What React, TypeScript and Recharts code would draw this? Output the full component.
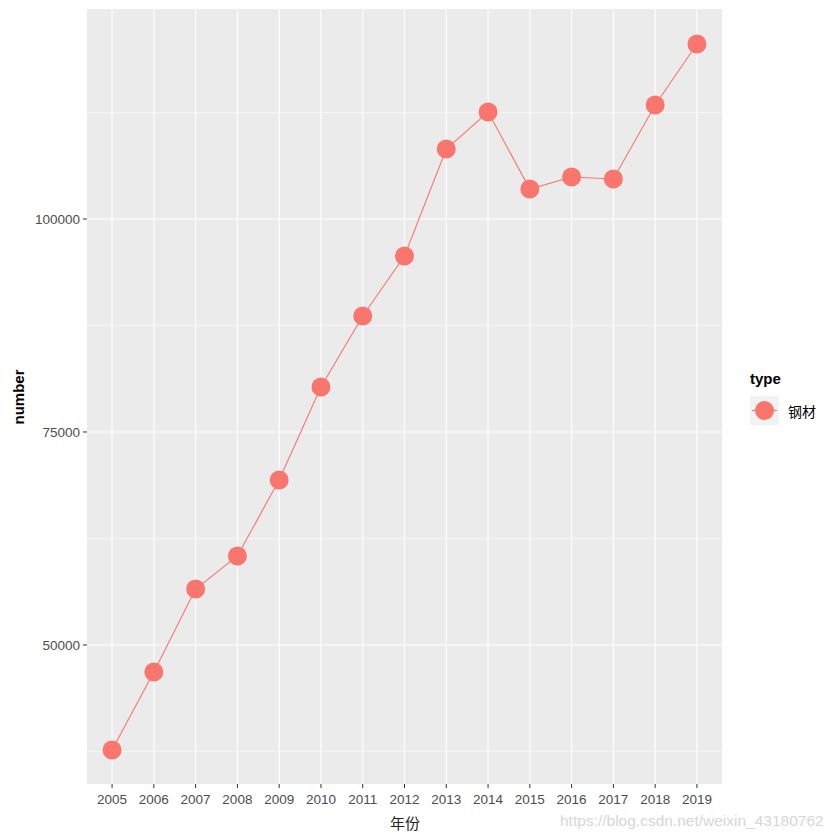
import { LineChart, Line, XAxis, YAxis, CartesianGrid } from "recharts";

const years = [2005, 2006, 2007, 2008, 2009, 2010, 2011, 2012, 2013, 2014, 2015, 2016, 2017, 2018, 2019];
const steel = [37680, 46830, 56570, 60450, 69370, 80280, 88620, 95660, 108220, 112560, 103520, 104930, 104700, 113380, 120540];
const majorTicks = [50000, 75000, 100000];
const minorTicks = [37500, 62500, 87500, 112500];

const data = years.map((year, i) => ({ year, number: steel[i] }));

const RED = "#F8766D";
const tickStyle = { fontSize: 13.5, fill: "#4D4D4D", fontFamily: "Liberation Sans, Arial, sans-serif" };

export default function App() {
  return (
    <div style={{ position: "absolute", left: 0, top: 0, width: 840, height: 840, background: "#fff" }}>
      <LineChart
        width={840}
        height={840}
        data={data}
        margin={{ top: 9, right: 118, bottom: 0, left: 0 }}
      >
        <CartesianGrid
          fill="#EBEBEB"
          stroke="#FFFFFF"
          strokeWidth={0.55}
          vertical={false}
          horizontalValues={minorTicks}
        />
        <CartesianGrid
          fill="none"
          stroke="#FFFFFF"
          strokeWidth={1.1}
          horizontalValues={majorTicks}
          verticalValues={years}
        />
        <XAxis
          dataKey="year"
          type="number"
          domain={[2004.4, 2019.6]}
          ticks={years}
          interval={0}
          height={56}
          axisLine={false}
          tickLine={{ stroke: "#333333" }}
          tickSize={4}
          tickMargin={6}
          tick={tickStyle}
        />
        <YAxis
          type="number"
          domain={[33680, 124650]}
          ticks={majorTicks}
          allowDataOverflow
          width={87}
          axisLine={false}
          tickLine={{ stroke: "#333333" }}
          tickSize={4}
          tickMargin={3}
          tick={tickStyle}
        />
        <Line
          type="linear"
          dataKey="number"
          stroke={RED}
          strokeWidth={1.1}
          dot={{ r: 9.5, fill: RED, stroke: "none" }}
          activeDot={false}
          isAnimationActive={false}
        />
      </LineChart>

      {/* axis titles */}
      <div
        style={{
          position: "absolute",
          left: 18,
          top: 397,
          transform: "translate(-50%, -50%) rotate(-90deg)",
          fontFamily: "Liberation Sans, Arial, sans-serif",
          fontWeight: "bold",
          fontSize: 15,
          color: "#000",
          whiteSpace: "nowrap",
        }}
      >
        number
      </div>
      <div
        style={{
          position: "absolute",
          left: 405,
          top: 822,
          transform: "translate(-50%, -50%)",
          fontFamily: "Noto Sans CJK SC, sans-serif",
          fontSize: 15,
          color: "#222",
          whiteSpace: "nowrap",
        }}
      >
        年份
      </div>

      {/* legend */}
      <div
        style={{
          position: "absolute",
          left: 750,
          top: 370,
          fontFamily: "Liberation Sans, Arial, sans-serif",
          fontWeight: "bold",
          fontSize: 15,
          color: "#000",
        }}
      >
        type
      </div>
      <div style={{ position: "absolute", left: 750, top: 396, width: 29, height: 29, background: "#F2F2F2" }}>
        <svg width={29} height={29}>
          <line x1={2} y1={14.5} x2={27} y2={14.5} stroke={RED} strokeWidth={1.1} />
          <circle cx={14.5} cy={14.5} r={9.5} fill={RED} />
        </svg>
      </div>
      <div
        style={{
          position: "absolute",
          left: 788,
          top: 411,
          transform: "translateY(-50%)",
          fontFamily: "Noto Sans CJK SC, sans-serif",
          fontSize: 14,
          color: "#000",
          whiteSpace: "nowrap",
        }}
      >
        钢材
      </div>

      {/* watermark */}
      <div
        style={{
          position: "absolute",
          left: 560,
          top: 821,
          transform: "translateY(-50%)",
          fontFamily: "Liberation Sans, Arial, sans-serif",
          fontSize: 15.5,
          color: "#D6D6D6",
          whiteSpace: "nowrap",
        }}
      >
        https://blog.csdn.net/weixin_43180762
      </div>
    </div>
  );
}
